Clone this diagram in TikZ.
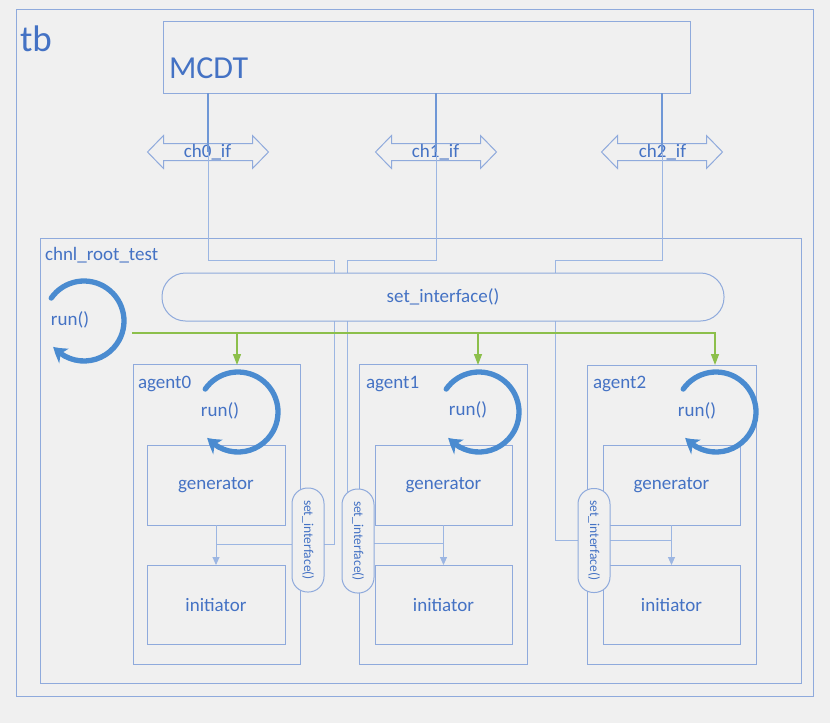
\documentclass[tikz,border=0pt]{standalone}
\usepackage{fontspec}
\setmainfont{Carlito}
\usetikzlibrary{arrows.meta,bending}
\definecolor{bg}{HTML}{F0F0F0}
\definecolor{txt}{HTML}{4472C4}
\definecolor{frame}{HTML}{8FAADC}
\definecolor{dark}{HTML}{6F97D6}
\definecolor{wire}{HTML}{9CB6E2}
\definecolor{runc}{HTML}{4A8BD0}
\definecolor{grn}{HTML}{8CBF4B}
\newcommand\dblarrowat[1]{\draw[box, shift={(#1)}] (-60.5,0) -- (-44.5,16.5) -- (-44.5,8.5) -- (44.5,8.5) -- (44.5,16.5) -- (60.5,0) -- (44.5,-16.5) -- (44.5,-8.5) -- (-44.5,-8.5) -- (-44.5,-16.5) -- cycle;}
\begin{document}
\begin{tikzpicture}[x=1pt,y=1pt,
  every node/.style={text=txt, font=\fontsize{19}{19}\selectfont, inner sep=0pt, outer sep=0pt},
  box/.style={draw=frame, line width=1pt},
  frameA/.style={box, rectangle},
  blk/.style={box, rectangle, minimum width=137pt, minimum height=80pt},
  agentbox/.style={box, rectangle, minimum width=167pt, minimum height=300pt},
  wireline/.style={draw=wire, line width=0.9pt},
  upline/.style={draw=dark, line width=1.2pt},
  runarc/.style={draw=runc, line width=5.3pt, line cap=round, -{Stealth[width=17pt,length=14pt,inset=4pt,bend]}},
  grnline/.style={draw=grn, line width=1.3pt},
  grnarrow/.style={grnline, -{Triangle[width=8pt,length=11pt]}},
  genarrow/.style={wireline, -{Triangle[width=7pt,length=8pt]}},
  smalloval/.style={box, fill=bg, rectangle, rounded corners=15.5pt, minimum width=104pt, minimum height=32pt, rotate=-90, font=\fontsize{13.5}{13.5}\selectfont},
  bigoval/.style={box, fill=bg, rectangle, rounded corners=23.5pt, minimum width=562pt, minimum height=48pt},
  lbl/.style={anchor=base west}
]
\fill[bg] (0,0) rectangle (830,-723);
\useasboundingbox (0,0) rectangle (830,-723);

% containers
\node[frameA, minimum width=797pt, minimum height=687pt] (tb) at (414.5,-352.5) {};
\node[lbl, font=\fontsize{37}{37}\selectfont] (tblabel) at (20,-51) {tb};
\node[frameA, minimum width=527pt, minimum height=72pt] (mcdt) at (426.5,-57) {};
\node[lbl, font=\fontsize{32}{32}\selectfont] (mcdtlabel) at (169,-78) {MCDT};
\node[frameA, minimum width=761pt, minimum height=445pt] (root) at (420.5,-460.5) {};
\node[lbl] (rootlabel) at (45,-260) {chnl\_root\_test};

% agents
\node[agentbox] (a0) at (216.5,-514) {};
\node[agentbox, minimum width=168pt] (a1) at (443,-514) {};
\node[agentbox, minimum width=169pt, minimum height=299pt] (a2) at (671.5,-514.5) {};
\node[lbl] (a0label) at (138,-388) {agent0};
\node[lbl] (a1label) at (366,-388) {agent1};
\node[lbl] (a2label) at (593,-388) {agent2};

\node[blk, minimum width=138pt] (gen0) at (216,-485) {generator};
\node[blk] (gen1) at (443.5,-485) {generator};
\node[blk] (gen2) at (671.5,-485) {generator};
\node[blk, minimum width=138pt, minimum height=79pt] (init0) at (216,-604.5) {initiator};
\node[blk, minimum height=79pt] (init1) at (443.5,-604.5) {initiator};
\node[blk, minimum height=79pt] (init2) at (671.5,-604.5) {initiator};

% channel interface arrows
\coordinate (c0) at (208,-152);
\coordinate (c1) at (436,-152);
\coordinate (c2) at (662,-152);
\dblarrowat{c0}
\dblarrowat{c1}
\dblarrowat{c2}
\node[anchor=base] (ch0) at (207.5,-157.5) {ch0\_if};
\node[anchor=base] (ch1) at (435.5,-157.5) {ch1\_if};
\node[anchor=base] (ch2) at (662.5,-157.5) {ch2\_if};

\draw[upline] (mcdt.south -| c0) -- (c0);
\draw[upline] (mcdt.south -| c1) -- (c1);
\draw[upline] (mcdt.south -| c2) -- (c2);

% wiring to agents
\coordinate (k0) at (334,-260);
\coordinate (k1) at (347,-260);
\coordinate (k2) at (555,-260);
\coordinate (w0) at (334,-544);
\coordinate (w1) at (347,-543);
\coordinate (w2) at (555,-540);
\draw[wireline] (c0) |- (k0) -- (w0) -- (gen0.south |- w0);
\draw[wireline] (c1) |- (k1) -- (w1) -- (gen1.south |- w1);
\draw[wireline] (c2) |- (k2) -- (w2) -- (gen2.south |- w2);

\draw[genarrow] (gen0.south) -- (init0.north);
\draw[genarrow] (gen1.south) -- (init1.north);
\draw[genarrow] (gen2.south) -- (init2.north);

% green run() calls
\coordinate (gs) at (132,-333);
\coordinate (t0) at (237,-365);
\coordinate (t1) at (478,-365);
\coordinate (t2) at (715,-365);
\draw[grnarrow] (gs) -| (t2);
\draw[grnarrow] (gs -| t0) -- (t0);
\draw[grnarrow] (gs -| t1) -- (t1);

% run() loops
\coordinate (rr) at (84,-321);
\coordinate (r0) at (238,-412);
\coordinate (r1) at (479,-412);
\coordinate (r2) at (716,-412);
\draw[runarc] (rr) ++(145:40) arc[start angle=145, end angle=-140, radius=40];
\draw[runarc] (r0) ++(145:40) arc[start angle=145, end angle=-140, radius=40];
\draw[runarc] (r1) ++(145:40) arc[start angle=145, end angle=-140, radius=40];
\draw[runarc] (r2) ++(145:40) arc[start angle=145, end angle=-140, radius=40];
\node (runr) at (70,-320) {run()};
\node (run0) at (220,-411) {run()};
\node (run1) at (468,-410) {run()};
\node (run2) at (697,-411) {run()};

% set_interface ovals
\node[bigoval] (setif) at (443,-297) {set\_interface()};
\node[smalloval] (o0) at (308,-540) {set\_interface()};
\node[smalloval] (o1) at (358,-541) {set\_interface()};
\node[smalloval] (o2) at (594,-540.5) {set\_interface()};
\end{tikzpicture}
\end{document}
